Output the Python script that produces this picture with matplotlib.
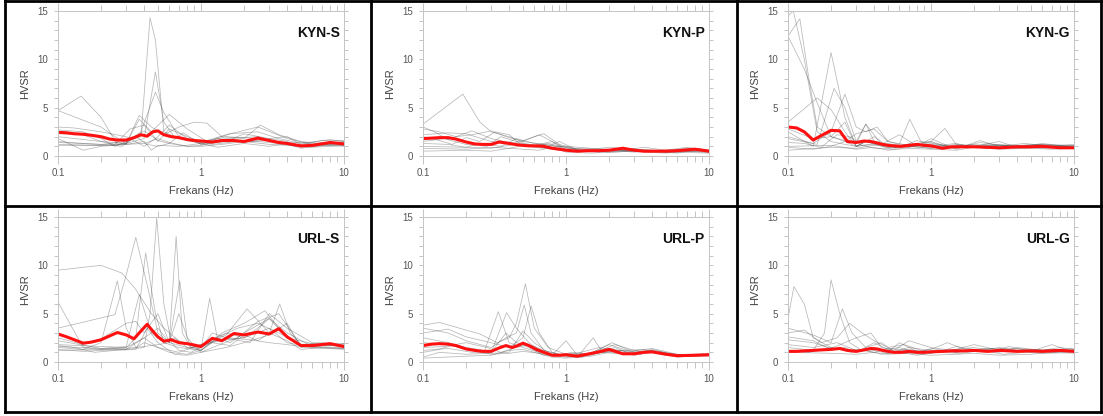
import matplotlib
matplotlib.use("Agg")
import matplotlib.pyplot as plt
from matplotlib.lines import Line2D
from matplotlib.ticker import FixedLocator, NullFormatter, MultipleLocator

plt.rcParams["font.family"] = ["Liberation Sans", "DejaVu Sans"]

# frequency grid of the red (mean) curves
FREQ_MEAN = [0.1, 0.115, 0.13, 0.15, 0.17, 0.2, 0.23, 0.26, 0.3, 0.34, 0.38, 0.42,
             0.46, 0.5, 0.55, 0.62, 0.7, 0.8, 0.9, 1.0, 1.2, 1.4, 1.7, 2.0, 2.5,
             3.0, 3.5, 4.0, 5.0, 6.0, 8.0, 10.0]

MEAN_KYN_S = [2.45, 2.4, 2.3, 2.25, 2.15, 2.0, 1.75, 1.65, 1.65, 1.9, 2.2, 2.05,
              2.5, 2.6, 2.2, 2.0, 1.9, 1.7, 1.6, 1.55, 1.45, 1.6, 1.6, 1.5, 1.85,
              1.6, 1.4, 1.3, 1.05, 1.1, 1.4, 1.25]
MEAN_KYN_P = [1.8, 1.85, 1.9, 1.9, 1.75, 1.45, 1.25, 1.2, 1.2, 1.45, 1.35, 1.25,
              1.15, 1.1, 1.05, 1.05, 1.0, 0.8, 0.7, 0.6, 0.5, 0.55, 0.55, 0.6, 0.8,
              0.6, 0.5, 0.5, 0.5, 0.55, 0.7, 0.5]
MEAN_KYN_G = [3.0, 2.9, 2.5, 1.65, 2.1, 2.65, 2.6, 1.5, 1.4, 1.55, 1.5, 1.35,
              1.2, 1.1, 1.05, 1.0, 1.1, 1.2, 1.1, 1.05, 0.8, 0.95, 0.95, 0.95, 0.9,
              0.85, 0.9, 0.95, 0.95, 1.0, 0.85, 0.85]
MEAN_URL_S = [2.9, 2.6, 2.3, 1.95, 2.05, 2.3, 2.7, 3.05, 2.8, 2.4, 3.2, 3.9,
              3.2, 2.6, 2.15, 2.3, 2.0, 1.9, 1.75, 1.6, 2.45, 2.2, 2.95, 2.8, 3.1,
              2.9, 3.45, 2.6, 1.7, 1.7, 1.9, 1.6]
MEAN_URL_P = [1.7, 1.85, 1.9, 1.85, 1.7, 1.35, 1.2, 1.1, 1.1, 1.45, 1.7, 1.5,
              1.7, 1.95, 1.7, 1.3, 1.0, 0.7, 0.7, 0.75, 0.6, 0.8, 1.05, 1.3, 0.85,
              0.85, 1.0, 1.05, 0.8, 0.65, 0.7, 0.75]
MEAN_URL_G = [1.1, 1.1, 1.15, 1.2, 1.25, 1.3, 1.4, 1.2, 1.1, 1.25, 1.4, 1.35,
              1.2, 1.1, 1.0, 1.0, 1.1, 1.0, 1.0, 1.05, 1.1, 1.15, 1.15, 1.2, 1.1,
              1.2, 1.15, 1.1, 1.15, 1.1, 1.2, 1.1]

# individual station curves: (frequencies, HVSR values)
GRAY_KYN_S = [
    ([0.1, 0.15, 0.2, 0.3, 0.38, 0.44, 0.48, 0.55, 0.65, 0.8, 1, 1.5, 2.5, 4, 6, 10],
     [1.5, 1.3, 1.2, 1.5, 2.0, 14.3, 12.0, 2.5, 2.0, 1.6, 1.3, 1.8, 2.0, 1.2, 1.0, 1.2]),
    ([0.1, 0.2, 0.3, 0.4, 0.48, 0.55, 0.65, 0.9, 1.2, 2, 3, 5, 10],
     [1.2, 1.1, 1.3, 1.8, 8.7, 3.5, 2.0, 1.5, 1.2, 1.6, 1.4, 1.0, 1.3]),
    ([0.1, 0.2, 0.3, 0.38, 0.48, 0.55, 0.7, 1, 1.5, 2.5, 4, 6, 10],
     [2.0, 1.5, 1.3, 2.5, 6.6, 4.5, 2.0, 1.4, 2.2, 3.0, 1.8, 1.2, 1.5]),
    ([0.1, 0.145, 0.2, 0.26, 0.3, 0.37, 0.45, 0.6, 0.8, 1.1, 1.5, 2.5, 3.5, 5, 7, 10],
     [4.7, 6.2, 4.0, 1.2, 1.3, 3.8, 2.5, 4.3, 2.8, 1.5, 2.0, 1.8, 1.3, 1.4, 1.2, 1.1]),
    ([0.1, 0.15, 0.2, 0.25, 0.3, 0.37, 0.45, 0.55, 0.7, 0.9, 1.1, 1.4, 2, 2.6, 3.5, 5, 7, 10],
     [4.7, 3.7, 3.0, 2.0, 1.3, 4.2, 3.0, 2.2, 3.0, 3.5, 3.4, 2.0, 1.8, 3.2, 2.2, 1.5, 1.3, 1.4]),
    ([0.1, 0.13, 0.2, 0.3, 0.4, 0.5, 0.6, 0.8, 1, 1.5, 2, 3, 4, 5, 7, 10],
     [3.0, 2.9, 2.5, 2.0, 1.0, 2.0, 3.2, 1.8, 1.2, 1.5, 2.3, 1.8, 2.0, 1.2, 1.6, 1.6]),
    ([0.1, 0.15, 0.2, 0.25, 0.3, 0.4, 0.5, 0.6, 0.75, 1, 1.3, 2, 3, 4.5, 6, 10],
     [2.7, 2.5, 1.8, 1.0, 1.5, 2.6, 1.6, 1.3, 2.4, 1.2, 1.8, 1.5, 1.6, 1.0, 1.1, 1.3]),
    ([0.1, 0.15, 0.2, 0.3, 0.4, 0.45, 0.5, 0.7, 1, 1.3, 2, 3, 4, 5, 7, 10],
     [1.8, 0.6, 1.0, 1.2, 1.5, 0.6, 1.1, 1.0, 1.3, 0.9, 1.3, 1.0, 1.3, 0.8, 1.1, 1.0]),
    ([0.1, 0.2, 0.3, 0.4, 0.5, 0.6, 0.8, 1, 1.5, 2, 3, 4, 5, 7, 10],
     [1.1, 1.1, 1.2, 1.3, 1.8, 1.4, 1.0, 1.1, 1.6, 1.4, 1.8, 1.5, 0.9, 1.4, 1.2]),
    ([0.1, 0.15, 0.2, 0.25, 0.32, 0.4, 0.5, 0.6, 0.8, 1, 1.2, 1.6, 2.5, 3.5, 5, 8, 10],
     [2.3, 2.2, 1.5, 1.2, 2.8, 3.2, 1.5, 2.8, 2.0, 1.5, 1.7, 2.3, 2.5, 1.8, 1.3, 1.7, 1.5]),
    ([0.1, 0.2, 0.28, 0.35, 0.42, 0.5, 0.6, 0.8, 1, 1.4, 2, 3, 4, 6, 10],
     [1.4, 1.2, 1.0, 2.0, 1.2, 1.0, 1.3, 1.0, 1.0, 1.2, 1.5, 1.2, 1.1, 0.9, 1.1]),
]

GRAY_KYN_P = [
    ([0.1, 0.19, 0.25, 0.3, 0.4, 0.5, 0.7, 1, 1.5, 2, 3, 5, 7, 10],
     [3.3, 6.4, 3.5, 2.5, 2.0, 1.5, 1.2, 0.9, 0.6, 0.7, 0.5, 0.6, 0.9, 0.6]),
    ([0.1, 0.13, 0.17, 0.22, 0.3, 0.38, 0.5, 0.65, 0.8, 1, 1.3, 2, 3, 5, 7, 10],
     [2.8, 2.5, 2.0, 2.2, 2.6, 2.0, 1.5, 2.2, 1.5, 0.8, 0.6, 0.9, 0.7, 0.5, 0.8, 0.5]),
    ([0.1, 0.15, 0.2, 0.3, 0.4, 0.5, 0.6, 0.7, 0.9, 1.2, 1.6, 2.5, 4, 6, 10],
     [2.2, 2.4, 2.3, 1.5, 1.2, 1.6, 2.0, 2.3, 1.2, 0.7, 0.5, 0.8, 0.6, 0.5, 0.4]),
    ([0.1, 0.14, 0.2, 0.28, 0.35, 0.45, 0.6, 0.8, 1, 1.5, 2.2, 3.5, 5, 7, 10],
     [1.5, 1.8, 1.2, 1.0, 2.0, 1.5, 1.1, 1.5, 0.6, 0.5, 0.4, 0.6, 0.4, 0.7, 0.5]),
    ([0.1, 0.2, 0.3, 0.4, 0.5, 0.6, 0.8, 1, 1.4, 2, 3, 4, 6, 8, 10],
     [1.0, 0.9, 0.8, 1.1, 1.3, 0.9, 0.7, 0.5, 0.6, 0.4, 0.5, 0.5, 0.3, 0.6, 0.4]),
    ([0.1, 0.13, 0.16, 0.2, 0.25, 0.32, 0.4, 0.5, 0.7, 1, 1.5, 2.5, 3.5, 5, 8, 10],
     [2.0, 1.6, 1.2, 1.9, 1.5, 2.5, 2.2, 1.0, 0.9, 1.0, 0.8, 0.6, 0.9, 0.6, 0.5, 0.6]),
    ([0.1, 0.2, 0.3, 0.4, 0.55, 0.7, 0.9, 1.2, 1.7, 2.5, 3.5, 5, 7, 10],
     [0.8, 0.7, 0.9, 0.8, 1.2, 0.9, 1.5, 0.6, 0.4, 0.7, 0.4, 0.3, 0.5, 0.4]),
    ([0.1, 0.15, 0.2, 0.25, 0.35, 0.45, 0.6, 0.8, 1, 1.4, 2, 3, 4.5, 6, 8, 10],
     [1.3, 1.2, 0.9, 1.3, 1.0, 1.8, 1.3, 1.1, 0.7, 0.8, 0.5, 0.6, 0.5, 0.6, 0.8, 0.6]),
    ([0.1, 0.12, 0.15, 0.22, 0.3, 0.4, 0.55, 0.75, 1.0, 1.3, 2, 3, 5, 7, 10],
     [3.0, 2.5, 1.7, 2.6, 1.8, 1.4, 1.0, 1.3, 0.9, 0.5, 0.6, 0.4, 0.6, 0.7, 0.5]),
    ([0.1, 0.2, 0.3, 0.4, 0.5, 0.65, 0.8, 1, 1.5, 2, 2.5, 4, 6, 10],
     [0.5, 0.6, 0.5, 0.8, 0.7, 0.6, 0.9, 0.4, 0.3, 0.4, 0.6, 0.4, 0.4, 0.3]),
]

GRAY_KYN_G = [
    ([0.1, 0.109, 0.13, 0.16, 0.2, 0.25, 0.3, 0.4, 0.5, 0.7, 1, 1.5, 2.5, 4, 6, 10],
     [14.5, 15.0, 10.0, 2.5, 1.5, 1.2, 1.0, 1.3, 0.9, 1.0, 0.8, 0.9, 1.0, 0.8, 0.9, 1.0]),
    ([0.1, 0.121, 0.14, 0.16, 0.2, 0.25, 0.3, 0.35, 0.45, 0.6, 0.8, 1, 1.5, 2.5, 4, 6, 10],
     [12.4, 14.2, 8.0, 3.0, 2.0, 3.5, 1.0, 1.5, 1.2, 0.8, 1.0, 1.3, 0.9, 1.2, 1.0, 0.8, 0.9]),
    ([0.1, 0.13, 0.16, 0.2, 0.25, 0.3, 0.35, 0.4, 0.5, 0.7, 1, 1.3, 2, 3, 5, 8, 10],
     [12.4, 9.0, 5.5, 2.0, 1.5, 1.0, 1.5, 2.0, 1.0, 1.2, 1.5, 1.0, 0.9, 1.1, 1.0, 1.1, 1.0]),
    ([0.1, 0.16, 0.2, 0.25, 0.3, 0.4, 0.5, 0.7, 1, 1.5, 2, 3, 5, 10],
     [3.5, 6.0, 4.8, 2.5, 1.0, 1.2, 0.9, 1.0, 0.8, 1.2, 1.0, 0.8, 1.1, 0.9]),
    ([0.1, 0.15, 0.2, 0.25, 0.3, 0.35, 0.5, 0.7, 1, 1.5, 2.5, 4, 6, 10],
     [2.5, 1.0, 10.7, 4.0, 1.0, 1.5, 0.8, 1.0, 1.2, 0.9, 1.1, 1.0, 1.2, 0.9]),
    ([0.1, 0.16, 0.21, 0.25, 0.3, 0.35, 0.4, 0.5, 0.7, 1, 1.5, 2.2, 3.5, 6, 10],
     [1.8, 1.2, 7.0, 5.0, 1.5, 3.3, 1.5, 1.0, 1.2, 0.9, 0.8, 1.4, 1.0, 0.9, 1.1]),
    ([0.1, 0.15, 0.2, 0.25, 0.3, 0.35, 0.42, 0.5, 0.7, 1, 1.5, 2, 3, 5, 10],
     [2.0, 1.3, 2.5, 6.4, 3.0, 2.5, 3.0, 1.5, 1.1, 1.0, 1.3, 0.9, 1.2, 1.0, 0.8]),
    ([0.1, 0.15, 0.2, 0.25, 0.3, 0.4, 0.5, 0.6, 0.71, 0.85, 1, 1.3, 2, 3, 5, 8, 10],
     [0.9, 0.7, 1.0, 1.5, 2.3, 2.8, 1.5, 1.2, 3.8, 1.5, 1.4, 1.0, 1.2, 0.9, 1.2, 1.0, 1.0]),
    ([0.1, 0.2, 0.3, 0.4, 0.5, 0.7, 1, 1.25, 1.5, 2, 3, 4, 6, 10],
     [0.6, 0.9, 0.8, 1.1, 1.3, 0.9, 1.5, 2.85, 1.2, 1.0, 1.5, 0.9, 1.2, 1.1]),
    ([0.1, 0.15, 0.2, 0.3, 0.35, 0.45, 0.6, 0.8, 1, 1.5, 2.2, 3, 4.5, 7, 10],
     [2.8, 1.8, 2.0, 1.3, 3.3, 1.2, 2.2, 1.0, 1.8, 0.7, 1.6, 1.0, 1.3, 1.0, 1.2]),
    ([0.1, 0.2, 0.3, 0.4, 0.5, 0.7, 1, 1.5, 2, 3, 5, 7, 10],
     [1.0, 1.1, 0.7, 0.9, 0.6, 0.8, 0.7, 0.6, 0.9, 0.7, 0.8, 0.7, 0.8]),
    ([0.1, 0.13, 0.17, 0.22, 0.27, 0.33, 0.4, 0.55, 0.8, 1.1, 1.6, 2.5, 4, 6, 10],
     [1.4, 1.3, 0.9, 2.2, 2.0, 1.1, 0.8, 0.7, 1.6, 0.9, 1.1, 0.8, 0.9, 1.3, 0.9]),
]

GRAY_URL_S = [
    ([0.1, 0.2, 0.28, 0.35, 0.45, 0.55, 0.7, 0.9, 1.2, 1.6, 2.2, 3, 4, 5, 7, 10],
     [9.5, 10.0, 9.2, 7.5, 5.0, 3.5, 2.2, 1.6, 2.0, 2.5, 2.3, 2.0, 1.8, 1.6, 1.8, 1.6]),
    ([0.1, 0.15, 0.2, 0.25, 0.3, 0.35, 0.41, 0.48, 0.55, 0.7, 1, 1.3, 1.8, 2.5, 3.5, 5, 7, 10],
     [6.2, 1.5, 1.3, 1.4, 1.5, 2.5, 11.3, 5.0, 2.0, 1.5, 1.2, 2.5, 3.5, 4.0, 3.0, 1.8, 2.0, 1.8]),
    ([0.1, 0.25, 0.3, 0.35, 0.42, 0.5, 0.6, 0.8, 1, 1.4, 2, 2.8, 3.5, 4.5, 6, 10],
     [3.5, 4.9, 9.0, 12.9, 8.0, 3.0, 2.0, 1.5, 1.2, 3.0, 4.0, 5.3, 3.5, 2.0, 1.6, 1.5]),
    ([0.1, 0.15, 0.2, 0.26, 0.3, 0.35, 0.4, 0.5, 0.7, 1, 1.3, 2, 3, 4, 6, 10],
     [1.5, 1.3, 2.0, 8.4, 3.5, 1.5, 2.0, 1.5, 1.0, 1.8, 2.2, 2.5, 3.5, 2.0, 1.5, 1.4]),
    ([0.1, 0.2, 0.3, 0.4, 0.44, 0.49, 0.55, 0.62, 0.7, 0.85, 1, 1.5, 2.1, 3, 3.55, 4.2, 5, 7, 10],
     [1.2, 1.3, 1.3, 1.5, 5.0, 14.9, 6.0, 2.0, 1.2, 1.0, 1.5, 2.8, 5.5, 3.0, 6.0, 3.0, 1.8, 1.7, 1.9]),
    ([0.1, 0.2, 0.3, 0.4, 0.5, 0.6, 0.67, 0.74, 0.85, 1, 1.15, 1.3, 1.6, 2, 3, 4, 6, 10],
     [1.8, 1.6, 1.5, 2.5, 3.5, 2.0, 13.0, 3.0, 1.5, 1.3, 6.6, 2.5, 2.0, 3.0, 4.5, 2.5, 1.9, 1.7]),
    ([0.1, 0.2, 0.3, 0.4, 0.5, 0.6, 0.71, 0.8, 1, 1.3, 1.8, 2.5, 3.5, 5, 7, 10],
     [1.6, 1.4, 1.4, 1.6, 1.8, 2.0, 8.4, 2.5, 1.0, 1.7, 2.5, 4.2, 5.0, 1.7, 1.8, 1.6]),
    ([0.1, 0.15, 0.2, 0.3, 0.35, 0.4, 0.5, 0.6, 0.7, 0.85, 1, 1.5, 2, 2.5, 3, 4, 6, 10],
     [2.5, 1.8, 2.4, 4.0, 4.2, 3.0, 5.0, 2.0, 5.0, 1.5, 1.8, 3.0, 2.5, 3.5, 4.5, 3.0, 1.6, 1.9]),
    ([0.1, 0.15, 0.2, 0.3, 0.4, 0.5, 0.6, 0.8, 1, 1.2, 1.6, 2, 2.5, 3, 4, 5, 7, 10],
     [1.3, 1.1, 1.2, 1.3, 2.5, 1.5, 1.0, 0.8, 1.2, 2.0, 1.7, 2.8, 2.2, 3.0, 2.2, 1.3, 1.5, 1.4]),
    ([0.1, 0.13, 0.18, 0.25, 0.35, 0.42, 0.5, 0.65, 0.8, 1, 1.5, 2, 3, 4, 5, 8, 10],
     [1.7, 1.5, 1.0, 1.2, 1.3, 3.5, 2.0, 0.8, 0.7, 1.0, 1.5, 2.0, 2.8, 4.0, 1.5, 1.4, 1.3]),
    ([0.1, 0.2, 0.3, 0.37, 0.45, 0.55, 0.65, 0.8, 1, 1.2, 1.5, 2.2, 3, 4, 6, 10],
     [2.2, 1.4, 1.6, 7.0, 3.0, 2.0, 2.5, 1.5, 1.5, 3.0, 2.5, 2.0, 5.0, 3.5, 2.0, 1.7]),
]

GRAY_URL_P = [
    ([0.1, 0.13, 0.2, 0.25, 0.33, 0.4, 0.45, 0.52, 0.6, 0.75, 1, 1.5, 2.1, 3, 4, 6, 10],
     [3.8, 4.1, 3.3, 2.9, 2.0, 2.5, 4.0, 8.1, 3.5, 1.5, 0.8, 0.9, 2.0, 1.0, 1.3, 0.7, 0.8]),
    ([0.1, 0.15, 0.2, 0.3, 0.38, 0.45, 0.51, 0.57, 0.7, 0.9, 1.2, 1.6, 2.2, 3, 4, 6, 10],
     [3.5, 3.0, 2.2, 1.5, 2.5, 3.0, 5.9, 3.0, 1.2, 0.7, 0.6, 1.0, 1.8, 1.2, 1.0, 0.6, 0.7]),
    ([0.1, 0.15, 0.2, 0.3, 0.4, 0.5, 0.57, 0.65, 0.8, 1, 1.3, 2, 2.8, 4, 6, 10],
     [3.0, 3.4, 2.6, 2.0, 1.5, 2.5, 5.8, 3.0, 1.0, 0.6, 0.5, 1.8, 1.1, 1.4, 0.8, 0.7]),
    ([0.1, 0.15, 0.2, 0.27, 0.336, 0.4, 0.5, 0.65, 0.8, 1, 1.3, 1.8, 2.5, 4, 6, 10],
     [2.5, 2.0, 1.5, 1.2, 5.2, 2.0, 1.5, 1.0, 0.8, 0.5, 0.6, 1.0, 0.8, 1.2, 0.7, 0.8]),
    ([0.1, 0.15, 0.22, 0.3, 0.384, 0.45, 0.55, 0.7, 0.9, 1.1, 1.5, 2, 3, 4, 7, 10],
     [1.2, 1.4, 1.0, 1.0, 5.1, 3.5, 2.0, 1.0, 0.6, 0.8, 0.7, 1.4, 0.9, 1.2, 0.6, 0.7]),
    ([0.1, 0.15, 0.2, 0.25, 0.3, 0.38, 0.45, 0.55, 0.7, 1, 1.2, 1.55, 1.8, 2.5, 3.5, 5, 7, 10],
     [2.0, 1.8, 1.3, 1.2, 1.0, 3.0, 2.0, 1.5, 0.7, 0.7, 0.5, 2.5, 1.0, 1.2, 1.3, 0.8, 0.6, 0.7]),
    ([0.1, 0.13, 0.2, 0.3, 0.4, 0.5, 0.6, 0.8, 1, 1.2, 1.6, 2.2, 3, 4, 6, 10],
     [0.5, 1.0, 0.8, 0.9, 1.0, 3.2, 2.0, 0.7, 2.2, 0.7, 0.9, 1.5, 0.7, 1.0, 0.5, 0.8]),
    ([0.1, 0.2, 0.3, 0.4, 0.5, 0.6, 0.8, 1, 1.5, 2, 3, 4, 6, 10],
     [0.4, 0.6, 0.7, 1.2, 1.3, 1.0, 0.5, 0.4, 0.6, 1.0, 0.8, 1.1, 0.6, 0.6]),
    ([0.1, 0.14, 0.2, 0.28, 0.35, 0.45, 0.55, 0.7, 0.9, 1.2, 1.7, 2.3, 3.5, 5, 7, 10],
     [1.5, 1.6, 2.0, 1.5, 1.0, 1.5, 1.8, 1.2, 0.8, 0.9, 1.5, 1.2, 1.0, 0.9, 0.7, 0.8]),
    ([0.1, 0.12, 0.16, 0.22, 0.3, 0.4, 0.5, 0.65, 0.85, 1.1, 1.5, 2, 3, 4, 6, 10],
     [1.0, 1.2, 1.7, 1.2, 0.8, 0.9, 1.1, 0.9, 0.6, 1.0, 0.8, 1.1, 0.9, 1.0, 0.7, 0.9]),
]

GRAY_URL_G = [
    ([0.1, 0.11, 0.13, 0.15, 0.2, 0.25, 0.3, 0.4, 0.5, 0.7, 1, 1.5, 2, 3, 5, 7, 10],
     [4.5, 7.8, 6.0, 2.5, 1.5, 1.2, 1.3, 1.0, 1.4, 1.2, 1.0, 1.3, 1.1, 1.5, 1.0, 1.3, 1.1]),
    ([0.1, 0.15, 0.18, 0.2, 0.23, 0.27, 0.32, 0.4, 0.5, 0.7, 1, 1.5, 2.5, 4, 6, 10],
     [1.5, 1.2, 3.0, 8.5, 5.0, 2.0, 1.3, 1.2, 0.9, 1.5, 1.2, 1.0, 1.4, 1.1, 1.3, 1.2]),
    ([0.1, 0.15, 0.2, 0.24, 0.28, 0.35, 0.45, 0.55, 0.7, 1, 1.3, 2, 3, 4.5, 7, 10],
     [3.5, 2.8, 2.0, 5.5, 3.0, 1.5, 2.0, 1.1, 1.3, 0.9, 1.2, 1.5, 1.1, 1.3, 1.0, 1.2]),
    ([0.1, 0.13, 0.17, 0.22, 0.27, 0.33, 0.4, 0.5, 0.65, 0.85, 1.1, 1.5, 2.2, 3, 4, 6, 10],
     [3.0, 3.3, 2.0, 2.5, 4.0, 3.0, 2.2, 1.5, 1.8, 1.2, 1.0, 1.6, 1.2, 1.0, 1.5, 1.2, 1.4]),
    ([0.1, 0.15, 0.2, 0.3, 0.38, 0.45, 0.55, 0.7, 1, 1.4, 2, 2.8, 4, 6, 8, 10],
     [2.3, 2.0, 1.4, 2.5, 3.0, 1.5, 1.2, 2.2, 1.5, 1.2, 1.8, 1.3, 1.4, 1.2, 1.5, 1.3]),
    ([0.1, 0.2, 0.3, 0.4, 0.5, 0.7, 1, 1.5, 2, 3, 5, 7, 10],
     [1.0, 0.9, 0.8, 1.0, 0.8, 0.9, 0.7, 0.8, 0.9, 0.7, 0.8, 1.0, 0.9]),
    ([0.1, 0.15, 0.22, 0.3, 0.4, 0.5, 0.6, 0.8, 1, 1.3, 1.8, 2.5, 3.5, 5, 7, 10],
     [1.8, 1.5, 2.0, 1.2, 1.5, 1.0, 2.0, 1.1, 1.3, 2.0, 1.2, 1.0, 1.6, 1.1, 1.8, 1.0]),
    ([0.1, 0.14, 0.2, 0.28, 0.35, 0.45, 0.6, 0.8, 1.1, 1.6, 2.3, 3.2, 4.5, 6.5, 10],
     [1.2, 1.0, 1.5, 1.0, 1.2, 0.8, 1.0, 0.7, 1.0, 0.9, 1.2, 0.8, 1.0, 0.9, 1.0]),
    ([0.1, 0.15, 0.2, 0.25, 0.3, 0.4, 0.5, 0.6, 0.8, 1, 1.5, 2, 3, 4, 6, 10],
     [2.6, 2.2, 1.3, 1.5, 1.0, 2.0, 1.3, 1.5, 0.9, 1.4, 1.0, 1.3, 1.4, 1.2, 1.0, 1.3]),
]

STATIONS = [
    ["KYN-S", "KYN-P", "KYN-G"],
    ["URL-S", "URL-P", "URL-G"],
]
GRAYS = [
    [GRAY_KYN_S, GRAY_KYN_P, GRAY_KYN_G],
    [GRAY_URL_S, GRAY_URL_P, GRAY_URL_G],
]
MEANS = [
    [MEAN_KYN_S, MEAN_KYN_P, MEAN_KYN_G],
    [MEAN_URL_S, MEAN_URL_P, MEAN_URL_G],
]

W, H = 1103, 416
SPINE = "#c4c4c4"


def draw_panel(axis, name, gray_curves, mean_values):
    for freqs, values in gray_curves:
        axis.plot(freqs, values, color="#444444", alpha=0.38, linewidth=0.55)
    axis.plot(FREQ_MEAN, mean_values, color="#ff1010", linewidth=2.2)

    axis.set_xscale("log")
    axis.set_xlim(0.1, 10)
    axis.set_ylim(0, 15)
    axis.set_xticks([0.1, 1, 10])
    axis.set_xticklabels(["0.1", "1", "10"])
    minor_x = [m * d for d in (0.1, 1) for m in range(2, 10)]
    axis.xaxis.set_minor_locator(FixedLocator(minor_x))
    axis.xaxis.set_minor_formatter(NullFormatter())
    axis.yaxis.set_major_locator(MultipleLocator(5))
    axis.yaxis.set_minor_locator(MultipleLocator(1))

    for spine in axis.spines.values():
        spine.set_color(SPINE)
        spine.set_linewidth(0.7)

    axis.tick_params(which="both", direction="out", color=SPINE, width=0.7,
                     top=True, right=True, labelsize=7, labelcolor="#555555")
    axis.tick_params(axis="x", which="major", length=6, pad=3)
    axis.tick_params(axis="x", which="minor", length=4)
    axis.tick_params(axis="y", which="both", length=3.2, pad=4)

    axis.set_xlabel("Frekans (Hz)", fontsize=8, color="#444444")
    axis.set_ylabel("HVSR", fontsize=8, color="#444444")
    axis.xaxis.set_label_coords(0.5, -30 / 144)
    axis.yaxis.set_label_coords(-28 / 286, 0.5)

    axis.text(0.985, 0.85, name, transform=axis.transAxes, ha="right", va="center",
              fontsize=10, fontweight="bold", color="#111111")


fig = plt.figure(figsize=(W / 100, H / 100), dpi=100)

col_left = [58, 423, 788]
row_top = [11, 217]
for r in range(2):
    for c in range(3):
        ax = fig.add_axes([col_left[c] / W, 1 - (row_top[r] + 145) / H, 286 / W, 145 / H])
        draw_panel(ax, STATIONS[r][c], GRAYS[r][c], MEANS[r][c])

# black panel frames
for x in (5, 371, 737, 1101):
    fig.add_artist(Line2D([x / W, x / W], [1 - 1 / H, 1 - 412 / H], color="black",
                          linewidth=2, transform=fig.transFigure))
for y in (1, 206, 412):
    fig.add_artist(Line2D([5 / W, 1101 / W], [1 - y / H, 1 - y / H], color="black",
                          linewidth=2, transform=fig.transFigure))

fig.savefig("out.png", dpi=100)
